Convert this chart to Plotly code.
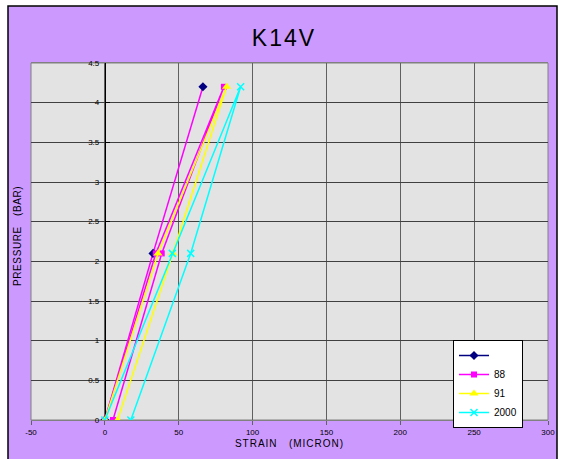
import plotly.graph_objects as go

# ---- data ----
pressure = [0, 2.1, 4.2, 2.1, 0]
s1_x = [0, 32.6, 66.4]
s1_y = [0, 2.1, 4.2]
s88_x = [0, 34.5, 80.6, 38.5, 5.5]
s91_x = [0, 36.0, 82.4, 46.0, 8.6]
s2000_x = [0, 45.7, 91.9, 58.1, 17.6]

x_ticks = [-50, 0, 50, 100, 150, 200, 250, 300]
y_ticks = [0, 0.5, 1, 1.5, 2, 2.5, 3, 3.5, 4, 4.5]
y_tick_text = ["0", "0.5", "1", "1.5", "2", "2.5", "3", "3.5", "4", "4.5"]

FONT = "Arial, Liberation Sans, sans-serif"
NAVY = "#000080"
MAGENTA = "#FF00FF"
YELLOW = "#FFFF00"
CYAN = "#00FFFF"

fig = go.Figure()

# series 1 (unnamed): drawn with magenta line, navy diamonds
fig.add_trace(go.Scatter(
    x=s1_x, y=s1_y, mode="lines+markers", showlegend=False,
    line=dict(color=MAGENTA, width=1.5),
    marker=dict(symbol="diamond", size=7, color=NAVY),
))
# legend entry for series 1
fig.add_trace(go.Scatter(
    x=[None], y=[None], mode="lines+markers", name=" ",
    line=dict(color=NAVY, width=1.5),
    marker=dict(symbol="diamond", size=7, color=NAVY),
))
fig.add_trace(go.Scatter(
    x=s88_x, y=pressure, mode="lines+markers", name="88",
    line=dict(color=MAGENTA, width=1.5),
    marker=dict(symbol="square", size=6, color=MAGENTA),
))
fig.add_trace(go.Scatter(
    x=s91_x, y=pressure, mode="lines+markers", name="91",
    line=dict(color=YELLOW, width=1.5),
    marker=dict(symbol="triangle-up", size=8, color=YELLOW),
))
fig.add_trace(go.Scatter(
    x=s2000_x, y=pressure, mode="lines+markers", name="2000",
    line=dict(color=CYAN, width=1.5),
    marker=dict(symbol="x-thin", size=7, color=CYAN,
                line=dict(color=CYAN, width=1.5)),
))

ml, mr, mt, mb = 31, 17, 63, 39
W, H = 565, 459
pw, ph = W - ml - mr, H - mt - mb

def px_to_paper_x(px):
    return (px - ml) / pw

def px_to_paper_y(py):
    return (H - mb - py) / ph

def spaced(text, px):
    return '<span style="letter-spacing:%spx">%s</span>' % (px, text)

fig.update_layout(
    width=W, height=H,
    margin=dict(l=ml, r=mr, t=mt, b=mb, pad=0, autoexpand=False),
    paper_bgcolor="white",
    plot_bgcolor="#E3E3E3",
    font=dict(family=FONT, color="black", size=9),
    title=dict(text=spaced("K14V", 2), font=dict(family=FONT, size=23, color="black"),
               x=284 / W, xref="container", xanchor="center",
               y=1 - 38 / H, yref="container", yanchor="middle"),
    showlegend=True,
    legend=dict(x=px_to_paper_x(453), y=px_to_paper_y(340),
                xanchor="left", yanchor="top",
                bgcolor="white", bordercolor="black", borderwidth=1,
                font=dict(family=FONT, size=10, color="black"),
                tracegroupgap=0, itemwidth=30),
    xaxis=dict(range=[-50, 300], tickvals=x_ticks, ticktext=[str(v) for v in x_ticks],
               showgrid=True, gridcolor="#606060", gridwidth=1,
               zeroline=False, showline=True, linecolor="#808080", linewidth=1,
               mirror=True, ticks="outside", ticklen=4, tickcolor="#606060",
               tickfont=dict(size=8), layer="below traces",
               title=dict(text=spaced("STRAIN\u00a0\u00a0 (MICRON)", 1), font=dict(size=10), standoff=4)),
    yaxis=dict(range=[0, 4.5], tickvals=y_ticks, ticktext=y_tick_text,
               anchor="free", position=50 / 350,
               showgrid=True, gridcolor="#404040", gridwidth=1,
               zeroline=False, showline=True, linecolor="black", linewidth=1,
               ticks="inside", ticklen=4, tickcolor="black",
               ticklabelstandoff=4,
               tickfont=dict(size=8), layer="below traces"),
    shapes=[
        dict(type="rect", xref="paper", yref="paper",
             x0=px_to_paper_x(8), x1=px_to_paper_x(557),
             y0=px_to_paper_y(470), y1=px_to_paper_y(6),
             fillcolor="#CC99FF", line=dict(color="black", width=1.5),
             layer="below"),
        dict(type="rect", xref="paper", yref="paper",
             x0=0, x1=1, y0=0, y1=1,
             fillcolor="#E3E3E3", line=dict(color="#808080", width=1),
             layer="below"),
    ],
    annotations=[
        dict(text=spaced("PRESSURE\u00a0\u00a0 (BAR)", 0.6), xref="paper", yref="paper",
             x=px_to_paper_x(17), y=px_to_paper_y(236), textangle=-90,
             showarrow=False, font=dict(family=FONT, size=10, color="black"),
             xanchor="center", yanchor="middle"),
    ],
)

fig.write_html("out.html", config={"displayModeBar": False},
               post_script="document.body.style.margin='0';")
